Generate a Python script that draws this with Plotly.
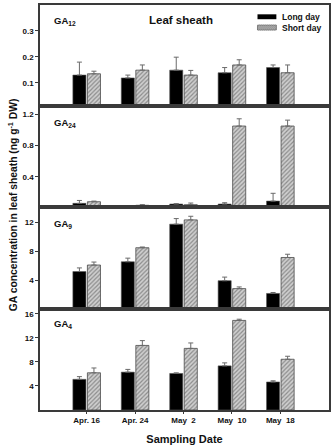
import plotly.graph_objects as go

dates = ["Apr. 16", "Apr. 24", "May  2", "May  10", "May  18"]
xpos = [0, 1, 2, 3, 4]

ga12_long = [0.130, 0.119, 0.149, 0.139, 0.159]
ga12_long_err = [0.050, 0.011, 0.050, 0.020, 0.010]
ga12_short = [0.135, 0.149, 0.130, 0.169, 0.139]
ga12_short_err = [0.010, 0.020, 0.018, 0.020, 0.030]

ga24_long = [0.059, 0.0, 0.050, 0.050, 0.088]
ga24_long_err = [0.037, 0.0, 0.005, 0.017, 0.100]
ga24_short = [0.080, 0.034, 0.042, 1.052, 1.052]
ga24_short_err = [0.008, 0.008, 0.021, 0.093, 0.076]

ga9_long = [5.18, 6.53, 11.73, 3.91, 2.15]
ga9_long_err = [0.50, 0.50, 0.77, 0.50, 0.13]
ga9_short = [6.08, 8.47, 12.32, 2.82, 7.12]
ga9_short_err = [0.41, 0.10, 0.50, 0.23, 0.45]

ga4_long = [5.10, 6.30, 6.08, 7.34, 4.66]
ga4_long_err = [0.45, 0.45, 0.10, 0.50, 0.20]
ga4_short = [6.19, 10.74, 10.25, 14.90, 8.44]
ga4_short_err = [0.80, 0.80, 0.90, 0.20, 0.50]

panels = [
    ("GA<sub>12</sub>", ga12_long, ga12_long_err, ga12_short, ga12_short_err, [0.009, 0.40], [0.1, 0.2, 0.3]),
    ("GA<sub>24</sub>", ga24_long, ga24_long_err, ga24_short, ga24_short_err, [0.012, 1.303], [0.4, 0.8, 1.2]),
    ("GA<sub>9</sub>", ga9_long, ga9_long_err, ga9_short, ga9_short_err, [0.0, 14.1], [4, 8, 12]),
    ("GA<sub>4</sub>", ga4_long, ga4_long_err, ga4_short, ga4_short_err, [0.0, 16.8], [4, 8, 12, 16]),
]

FONT = "Liberation Sans"
FRAME = "#3a3a3a"
ERR = "#6a6a6a"
HATCH_BG = "#cfcfcf"
HATCH_FG = "#4a4a4a"

# plot area in pixels
L_px, R_px = 40, 331
top_px, bot_px = 5, 418
bounds = [5, 108.5, 211, 315, 418]
W = R_px - L_px
H = bot_px - top_px
domains = [[(bot_px - bounds[i + 1]) / H, (bot_px - bounds[i]) / H] for i in range(4)]


def px(x):
    return (x - L_px) / W


def py(y):
    return (bot_px - y) / H


fig = go.Figure()
layout = dict()
for i, (lab, lv, le, sv, se, yr, tv) in enumerate(panels):
    n = i + 1
    xa = "x" if n == 1 else f"x{n}"
    ya = "y" if n == 1 else f"y{n}"
    fig.add_trace(go.Bar(
        x=xpos, y=lv, xaxis=xa, yaxis=ya, width=0.27, offset=-0.285,
        name="Long day", showlegend=False,
        marker=dict(color="black", line=dict(color="#555555", width=0.6)),
        error_y=dict(type="data", array=le, arrayminus=[0] * 5, symmetric=False,
                     color=ERR, thickness=1, width=2.5),
    ))
    fig.add_trace(go.Bar(
        x=xpos, y=sv, xaxis=xa, yaxis=ya, width=0.27, offset=0.015,
        name="Short day", showlegend=False,
        marker=dict(color=HATCH_BG, line=dict(color=HATCH_FG, width=0.8),
                    pattern=dict(shape="/", fgcolor=HATCH_FG, bgcolor=HATCH_BG,
                                 size=3, solidity=0.4)),
        error_y=dict(type="data", array=se, arrayminus=[0] * 5, symmetric=False,
                     color=ERR, thickness=1, width=2.5),
    ))
    xkey = "xaxis" if n == 1 else f"xaxis{n}"
    ykey = "yaxis" if n == 1 else f"yaxis{n}"
    layout[xkey] = dict(
        domain=[0, 1], anchor=ya, range=[-0.964, 5.005],
        showline=True, mirror=True, linecolor=FRAME, linewidth=1.5,
        showgrid=False, zeroline=False,
        tickvals=xpos, ticktext=dates if n == 4 else [""] * 5,
        showticklabels=(n == 4), ticks="outside" if n == 4 else "",
        ticklen=2, tickcolor=FRAME,
        tickfont=dict(family=FONT, size=8, color="#111", weight="bold"),
    )
    if n != 1:
        layout[xkey]["matches"] = "x"
    if n == 4:
        layout[xkey]["title"] = dict(text="Sampling Date", standoff=11,
                                     font=dict(family=FONT, size=11, color="#111", weight="bold"))
    layout[ykey] = dict(
        domain=domains[i], anchor=xa, range=yr, tickvals=tv,
        showline=True, mirror=True, linecolor=FRAME, linewidth=1.5,
        showgrid=False, zeroline=False, ticks="outside", ticklen=3, tickcolor=FRAME,
        tickfont=dict(family=FONT, size=8, color="#111", weight="bold"),
    )

annotations = []
label_y_px = [21, 125, 228, 330]
for i, (lab, *_rest) in enumerate(panels):
    annotations.append(dict(
        text=lab, xref="paper", yref="paper", x=px(52), y=py(label_y_px[i]),
        xanchor="left", yanchor="middle", showarrow=False,
        font=dict(family=FONT, size=9.5, color="#111", weight="bold"),
    ))
annotations.append(dict(
    text="Leaf sheath", xref="paper", yref="paper", x=px(182), y=py(20),
    xanchor="center", yanchor="middle", showarrow=False,
    font=dict(family=FONT, size=11.5, color="#111", weight="bold"),
))
annotations.append(dict(
    text="GA concentration in leaf sheath (ng g<sup>-1</sup> DW)", xref="paper", yref="paper",
    x=px(12), y=py(209), textangle=-90,
    xanchor="center", yanchor="middle", showarrow=False,
    font=dict(family=FONT, size=10.3, color="#111", weight="bold"),
))

# custom legend (thin swatches like the reference)
legend_items = ["Long day", "Short day"]
leg_y = [17, 28]
sw_x0, sw_x1 = 259, 278
shapes = []
shapes.append(dict(type="rect", xref="paper", yref="paper",
                   x0=px(sw_x0), x1=px(sw_x1), y0=py(leg_y[0] + 2.5), y1=py(leg_y[0] - 2.5),
                   fillcolor="black", line=dict(width=0)))
shapes.append(dict(type="rect", xref="paper", yref="paper",
                   x0=px(sw_x0), x1=px(sw_x1), y0=py(leg_y[1] + 2.5), y1=py(leg_y[1] - 2.5),
                   fillcolor=HATCH_BG, line=dict(width=0.6, color=HATCH_FG)))
# hatch lines inside swatch
yb, yt = leg_y[1] + 2.5, leg_y[1] - 2.5
hh = yb - yt
path = ""
s = sw_x0 - hh
while s < sw_x1:
    xa0, ya0 = s, yb
    xa1, ya1 = s + hh, yt
    if xa0 < sw_x0:
        ya0 = yb - (sw_x0 - xa0)
        xa0 = sw_x0
    if xa1 > sw_x1:
        ya1 = yt + (xa1 - sw_x1)
        xa1 = sw_x1
    path += f"M{px(xa0)},{py(ya0)} L{px(xa1)},{py(ya1)} "
    s += 2
shapes.append(dict(type="path", xref="paper", yref="paper", path=path,
                   line=dict(width=0.7, color=HATCH_FG)))
for name, yy in zip(legend_items, leg_y):
    annotations.append(dict(
        text=name, xref="paper", yref="paper", x=px(282), y=py(yy),
        xanchor="left", yanchor="middle", showarrow=False,
        font=dict(family=FONT, size=8.5, color="#111", weight="bold"),
    ))

fig.update_layout(
    **layout,
    annotations=annotations,
    shapes=shapes,
    barmode="overlay",
    width=333, height=446,
    margin=dict(l=40, r=2, t=5, b=28),
    paper_bgcolor="white", plot_bgcolor="white",
    showlegend=False,
)

fig.write_html("out.html")
